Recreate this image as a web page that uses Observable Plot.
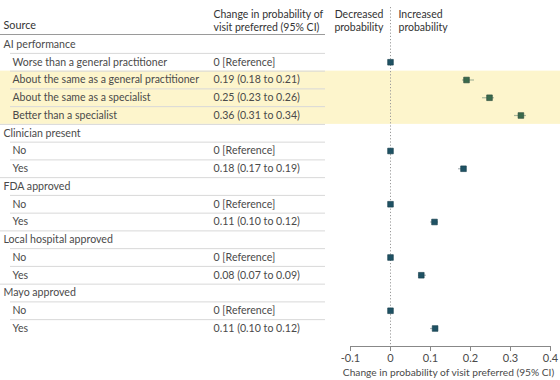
<!DOCTYPE html>
<html>
<head>
<meta charset="utf-8">
<script src="https://cdn.jsdelivr.net/npm/d3@7"></script>
<script src="https://cdn.jsdelivr.net/npm/@observablehq/plot@0.6"></script>
<style>
  html, body { margin: 0; padding: 0; background: #fff; }
  #chart { width: 560px; height: 380px; }
  svg { font-family: Lato, "Noto Sans", sans-serif; }
</style>
</head>
<body>
<div id="chart"></div>
<script>
// ---- data ----
const labels = [
  "AI performance",
  "Worse than a general practitioner",
  "About the same as a general practitioner",
  "About the same as a specialist",
  "Better than a specialist",
  "Clinician present", "No", "Yes",
  "FDA approved", "No", "Yes",
  "Local hospital approved", "No", "Yes",
  "Mayo approved", "No", "Yes"
];
const isGroup = [true, false, false, false, false, true, false, false, true, false, false, true, false, false, true, false, false];
const ciText = ["", "0 [Reference]", "0.19 (0.18 to 0.21)", "0.25 (0.23 to 0.26)", "0.36 (0.31 to 0.34)",
  "", "0 [Reference]", "0.18 (0.17 to 0.19)",
  "", "0 [Reference]", "0.11 (0.10 to 0.12)",
  "", "0 [Reference]", "0.08 (0.07 to 0.09)",
  "", "0 [Reference]", "0.11 (0.10 to 0.12)"];
const estimate = [null, 0, 0.19, 0.2475, 0.326, null, 0, 0.1825, null, 0, 0.11, null, 0, 0.077, null, 0, 0.1115];
const lower    = [null, 0, 0.18, 0.23, 0.31, null, 0, 0.17, null, 0, 0.10, null, 0, 0.07, null, 0, 0.10];
const upper    = [null, 0, 0.21, 0.26, 0.34, null, 0, 0.19, null, 0, 0.12, null, 0, 0.09, null, 0, 0.12];
const highlighted = [false, false, true, true, true, false, false, false, false, false, false, false, false, false, false, false, false];
const xTicks = [-0.1, 0, 0.1, 0.2, 0.3, 0.4];
const xLabel = "Change in probability of visit preferred (95% CI)";

// ---- layout (pixels) ----
const W = 560, H = 380;
const X0 = 350, X1 = 550;          // plot area for the forest part
const ROW0 = 44, ROWSTEP = 17.75;  // row centers
const AXIS_Y = 346;
const TABLE_RIGHT = 325;
const COL_SRC = 3, COL_INDENT = 12, COL_CI = 213;

const rows = labels.map((label, i) => ({
  i, label, group: isGroup[i], ci: ciText[i],
  est: estimate[i], lo: lower[i], hi: upper[i], hl: highlighted[i]
}));
const pts = rows.filter(d => d.est !== null);

// pixel -> data helpers
const xData = p => -0.1 + (p - X0) / (X1 - X0) * 0.5;
const yRow = p => (p - ROW0) / ROWSTEP;

// separators between rows
const seps = [];
seps.push({y: yRow(34), x1: xData(0), x2: xData(TABLE_RIGHT), stroke: "#9a9a9a"});
for (let i = 0; i < rows.length - 1; i++) {
  const nextGroup = rows[i + 1].group;
  seps.push({y: i + 0.5, x1: xData(nextGroup ? 0 : 10), x2: xData(TABLE_RIGHT), stroke: "#d8d8d8"});
}

const txt = "#4a4a4a";
const fs = 10.5;

const chart = Plot.plot({
  width: W, height: H,
  marginLeft: 0, marginRight: 0, marginTop: 0, marginBottom: H - AXIS_Y,
  style: {fontFamily: "Lato, 'Noto Sans', sans-serif", fontSize: fs + "px", color: txt, background: "#fff"},
  x: {domain: [-0.1, 0.4], range: [X0, X1], axis: null},
  y: {domain: [0, 16], range: [ROW0, ROW0 + 16 * ROWSTEP], axis: null},
  marks: [
    // highlight band
    Plot.rectY([{y1: 1.5, y2: 4.5}], {y1: "y1", y2: "y2", fill: "#fdf5cc"}),
    // separators
    Plot.ruleY(seps, {y: "y", x1: "x1", x2: "x2", stroke: "stroke", strokeWidth: 1}),
    // zero dotted line
    Plot.ruleX([0], {y1: yRow(7), y2: yRow(AXIS_Y), stroke: "#9a9a9a", strokeDasharray: "1.2,2", strokeWidth: 1}),
    // axis line
    Plot.ruleY([yRow(AXIS_Y)], {x1: -0.1, x2: 0.4, stroke: "#888"}),
    Plot.axisX(xTicks, {
      anchor: "bottom", tickSize: 5, tickPadding: 3, stroke: "#888",
      tickFormat: d => d === 0 ? "0" : d.toFixed(1),
      fill: txt, fontSize: 11, label: null
    }),
    Plot.text([xLabel], {x: 0.145, y: yRow(372), text: d => d, textAnchor: "middle", fill: txt, fontSize: 10.2}),
    // headers
    Plot.text(["Source"], {x: xData(COL_SRC), y: yRow(25), text: d => d, textAnchor: "start", fill: "#333", fontSize: 10.8}),
    Plot.text(["Change in probability of\nvisit preferred (95% CI)"], {x: xData(COL_CI), y: yRow(19.5), text: d => d, textAnchor: "start", fill: "#333", fontSize: fs, lineHeight: 1.25}),
    Plot.text(["Decreased\nprobability"], {x: xData(383), y: yRow(19.5), text: d => d, textAnchor: "end", fill: "#333", fontSize: fs, lineHeight: 1.25}),
    Plot.text(["Increased\nprobability"], {x: xData(398), y: yRow(19.5), text: d => d, textAnchor: "start", fill: "#333", fontSize: fs, lineHeight: 1.25}),
    // row labels
    Plot.text(rows.filter(d => d.group), {x: xData(COL_SRC), y: "i", text: "label", textAnchor: "start", fill: txt, fontSize: 10.6}),
    Plot.text(rows.filter(d => !d.group), {x: xData(COL_INDENT), y: "i", text: "label", textAnchor: "start", fill: txt, fontSize: 10.5}),
    Plot.text(rows.filter(d => d.ci), {x: xData(COL_CI), y: "i", text: "ci", textAnchor: "start", fill: txt, fontSize: 10.6}),
    // whiskers
    Plot.ruleY(pts.filter(d => d.hi > d.lo), {y: "i", x1: "lo", x2: "hi", stroke: d => d.hl ? "#a9b79a" : "#b0b8bb", strokeWidth: 1.2}),
    // points
    Plot.dot(pts, {x: "est", y: "i", symbol: "square", r: 3.2, fill: d => d.hl ? "#3a6a4c" : "#1f5264", stroke: d => d.hl ? "#29483a" : "#163c4a", strokeWidth: 0.6})
  ]
});
document.getElementById("chart").appendChild(chart);
</script>
</body>
</html>
